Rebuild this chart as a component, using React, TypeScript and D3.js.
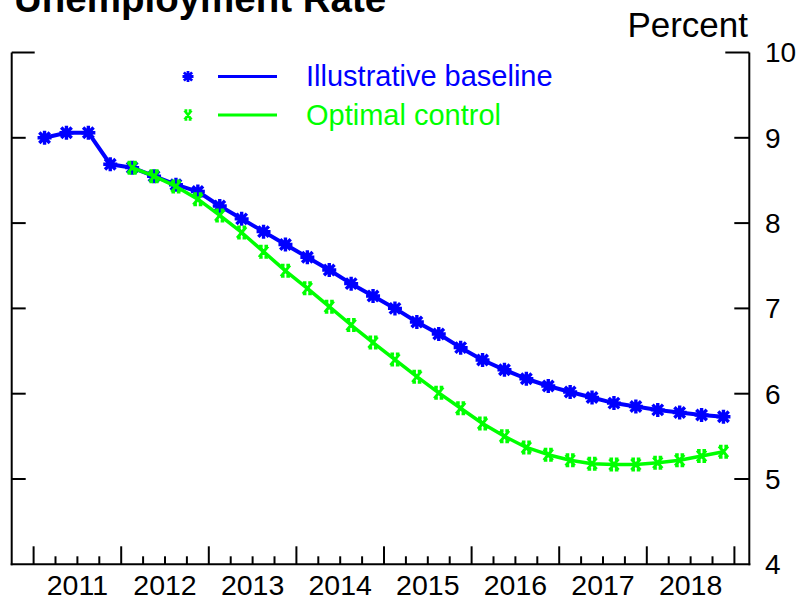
import React from "react";
import * as d3 from "d3";

const years = [2011, 2012, 2013, 2014, 2015, 2016, 2017, 2018];
const quarterNames = ["Q1", "Q2", "Q3", "Q4"];
const quarters = years.flatMap((y) => quarterNames.map((q) => `${y}${q}`));

const baseline = [
  9.0, 9.06, 9.06, 8.69, 8.65, 8.55, 8.45, 8.37, 8.2, 8.05, 7.9, 7.75, 7.6, 7.45,
  7.29, 7.145, 7.0, 6.84, 6.7, 6.54, 6.395, 6.28, 6.175, 6.09, 6.02, 5.955, 5.89,
  5.85, 5.81, 5.78, 5.75, 5.73,
];
// Optimal control starts at 2012Q1 (index 4)
const optimalStart = 4;
const optimal = [
  8.65, 8.55, 8.43, 8.28, 8.09, 7.89, 7.665, 7.44, 7.235, 7.02, 6.805, 6.6, 6.4,
  6.2, 6.01, 5.83, 5.65, 5.5, 5.37, 5.285, 5.22, 5.18, 5.17, 5.17, 5.19, 5.22,
  5.27, 5.32,
];
const yTicks = [4, 5, 6, 7, 8, 9, 10];
const seriesNames = ["Illustrative baseline", "Optimal control"];

const BLUE = "#0000ff";
const GREEN = "#00ff00";
const FONT = "'Liberation Sans', Arial, Helvetica, sans-serif";

function Asterisk({ x, y, r, color, sw }: { x: number; y: number; r: number; color: string; sw: number }) {
  const d = r * 0.75;
  return (
    <path
      d={`M${x - r},${y}L${x + r},${y}M${x},${y - r}L${x},${y + r}M${x - d},${y - d}L${x + d},${y + d}M${x - d},${y + d}L${x + d},${y - d}`}
      stroke={color}
      strokeWidth={sw}
      fill="none"
    />
  );
}

function XMark({ x, y, rx, ry, color, sw }: { x: number; y: number; rx: number; ry: number; color: string; sw: number }) {
  return (
    <path
      d={`M${x - rx},${y - ry}L${x + rx},${y + ry}M${x - rx},${y + ry}L${x + rx},${y - ry}M${x - rx},${y - ry}L${x - rx * 0.2},${y - ry}M${x + rx * 0.2},${y - ry}L${x + rx},${y - ry}M${x - rx},${y + ry}L${x - rx * 0.2},${y + ry}M${x + rx * 0.2},${y + ry}L${x + rx},${y + ry}`}
      stroke={color}
      strokeWidth={sw}
      fill="none"
    />
  );
}

export default function App() {
  const left = 11.7;
  const right = 749.3;
  const top = 52.5;
  const bottom = 564.3;

  // quarter-unit scale: 0 = start of 2011Q1
  const x = d3.scaleLinear().domain([-1, 32.68]).range([left, right]);
  const y = d3.scaleLinear().domain([4, 10]).range([bottom, top]);

  const blueLine = d3
    .line<number>()
    .x((_, i) => x(i + 0.5))
    .y((d) => y(d));
  const greenLine = d3
    .line<number>()
    .x((_, i) => x(i + optimalStart + 0.5))
    .y((d) => y(d));

  const qTicks = d3.range(0, quarters.length + 1);

  return (
    <svg
      width={802}
      height={602}
      style={{ position: "absolute", left: 0, top: 0, background: "#fff" }}
      fontFamily={FONT}
    >
      <rect x={0} y={0} width={802} height={602} fill="#fff" />
      {/* Title */}
      <text x={14} y={12} fontSize={38.5} fontWeight="bold" fill="#000">
        Unemployment Rate
      </text>
      <text x={748} y={37} fontSize={35} textAnchor="end" fill="#000">
        Percent
      </text>

      {/* Axes frame: left, right, bottom */}
      <g stroke="#000" strokeWidth={2} fill="none">
        <line x1={left} x2={left} y1={top} y2={bottom + 1} />
        <line x1={right} x2={right} y1={top} y2={bottom + 1} />
        <line x1={left - 1} x2={right + 1} y1={bottom} y2={bottom} />
        {/* y ticks */}
        {yTicks
          .filter((t) => t > 4)
          .map((t) => {
            const len = t === 10 ? 23 : 14;
            return (
              <g key={t}>
                <line x1={left} x2={left + len} y1={y(t)} y2={y(t)} />
                <line x1={right - len - 1} x2={right} y1={y(t)} y2={y(t)} />
              </g>
            );
          })}
        {/* x ticks */}
        {qTicks.map((q) => (
          <line key={q} x1={x(q)} x2={x(q)} y1={bottom} y2={bottom - (q % 4 === 0 ? 18 : 8)} />
        ))}
      </g>

      {/* y labels */}
      {yTicks.map((t) => (
        <text key={t} x={765} y={y(t)} dy="0.35em" fontSize={28} fill="#000">
          {t}
        </text>
      ))}
      {/* x labels */}
      {years.map((yr, k) => (
        <text key={yr} x={x(k * 4 + 2)} y={595} fontSize={28.5} textAnchor="middle" fill="#000">
          {yr}
        </text>
      ))}

      {/* Series */}
      <path d={blueLine(baseline) || ""} stroke={BLUE} strokeWidth={4} fill="none" strokeLinejoin="round" />
      {baseline.map((v, i) => (
        <Asterisk key={i} x={x(i + 0.5)} y={y(v)} r={7} color={BLUE} sw={3.4} />
      ))}
      <path d={greenLine(optimal) || ""} stroke={GREEN} strokeWidth={3.5} fill="none" strokeLinejoin="round" />
      {optimal.map((v, i) => (
        <XMark key={i} x={x(i + optimalStart + 0.5)} y={y(v)} rx={4.5} ry={5.5} color={GREEN} sw={3} />
      ))}

      {/* Legend */}
      <Asterisk x={188} y={76.5} r={5.5} color={BLUE} sw={2.8} />
      <line x1={218} x2={277} y1={76.5} y2={76.5} stroke={BLUE} strokeWidth={3} />
      <text x={306} y={86} fontSize={29} fill={BLUE}>
        {seriesNames[0]}
      </text>
      <XMark x={188} y={115} rx={3.5} ry={4.5} color={GREEN} sw={2.6} />
      <line x1={218} x2={277} y1={115} y2={115} stroke={GREEN} strokeWidth={3} />
      <text x={306} y={124.5} fontSize={29} fill={GREEN}>
        {seriesNames[1]}
      </text>
    </svg>
  );
}
